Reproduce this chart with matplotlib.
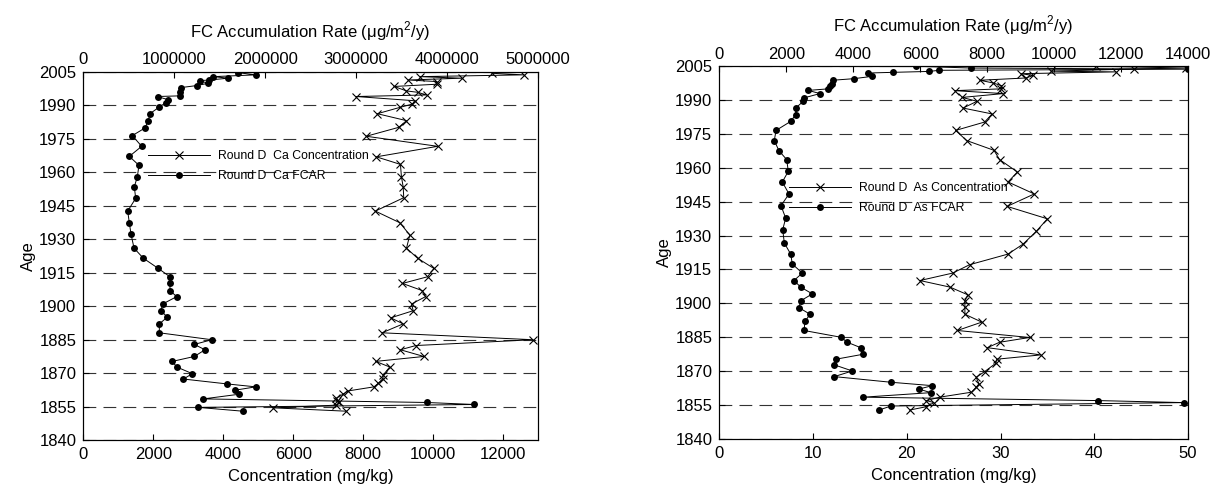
import matplotlib.pyplot as plt
import numpy as np

plt.rcParams['font.family'] = ['Liberation Sans', 'DejaVu Sans']
plt.rcParams['mathtext.fontset'] = 'custom'
plt.rcParams['mathtext.rm'] = 'Liberation Sans'

# ---------------------------------------------------------------------------
# Round D, Ca (left panel)
# ---------------------------------------------------------------------------
age_conc_ca = [2004.2, 2003.5, 2002.7, 2002.0, 2001.2, 2000.5, 1999.3, 1998.3, 1996.3, 1995.7,
               1994.5, 1993.8, 1991.9, 1990.4, 1989.0, 1986.1, 1983.0, 1980.0, 1976.0, 1971.5,
               1966.8, 1963.4, 1957.8, 1953.4, 1948.5, 1942.5, 1937.3, 1931.8, 1925.9, 1921.4,
               1916.8, 1913.1, 1910.1, 1906.9, 1904.2, 1900.9, 1897.9, 1894.7, 1892.0, 1888.0,
               1884.9, 1882.3, 1880.4, 1877.4, 1875.2, 1872.7, 1869.0, 1867.5, 1865.3, 1863.8,
               1862.0, 1860.5, 1858.6, 1857.4, 1856.8, 1855.6, 1854.4, 1852.9]
conc_ca = [11683, 12594, 9622, 10821, 9289, 10102, 10102, 8886, 9240, 9556,
           9815, 7803, 9479, 9404, 9067, 8407, 9240, 9019, 8090, 10131,
           8378, 9067, 9096, 9145, 9162, 8349, 9047, 9335, 9240, 9556,
           10024, 9843, 9125, 9691, 9786, 9384, 9432, 8789, 9145, 8541,
           12852, 9507, 9067, 9737, 8358, 8760, 8570, 8570, 8426, 8311,
           7582, 7421, 7228, 7248, 7323, 7228, 5437, 7516]

age_fcar_ca = [2004.5, 2003.5, 2002.7, 2002.0, 2001.2, 2000.9, 1999.7, 1998.7, 1997.8, 1996.0,
               1994.1, 1993.8, 1992.3, 1991.1, 1989.0, 1986.1, 1983.0, 1979.7, 1976.3, 1971.5,
               1967.0, 1963.0, 1957.8, 1953.4, 1948.2, 1942.5, 1937.3, 1932.1, 1925.9, 1921.4,
               1917.0, 1913.1, 1910.1, 1906.9, 1904.2, 1900.9, 1897.9, 1895.0, 1892.0, 1888.0,
               1884.9, 1882.8, 1880.4, 1877.4, 1875.2, 1872.7, 1869.7, 1867.3, 1865.1, 1863.8,
               1862.3, 1860.5, 1858.4, 1856.8, 1855.9, 1854.6, 1852.9]
fcar_ca = [1698000, 1896000, 1430000, 1595000, 1386000, 1283000, 1371000, 1247000, 1074000, 1063000,
           1063000, 818000, 935000, 909000, 832000, 733000, 715000, 678000, 539000, 642000,
           506000, 612000, 594000, 561000, 576000, 488000, 506000, 525000, 558000, 660000,
           818000, 953000, 953000, 953000, 1027000, 873000, 854000, 924000, 836000, 836000,
           1412000, 1221000, 1338000, 1221000, 979000, 1027000, 1199000, 1100000, 1583000, 1896000,
           1668000, 1715000, 1320000, 3776000, 4300000, 1265000, 1753000]

# ---------------------------------------------------------------------------
# Round D, As (right panel)
# ---------------------------------------------------------------------------
age_conc_as = [2004.9, 2004.1, 2003.7, 2002.7, 2002.4, 2001.6, 2000.8, 1999.7, 1998.7, 1997.5,
               1996.3, 1994.9, 1994.1, 1992.8, 1991.1, 1989.4, 1986.4, 1983.8, 1980.2, 1976.5,
               1972.0, 1967.7, 1963.6, 1958.1, 1953.7, 1948.4, 1942.9, 1937.4, 1931.8, 1926.2,
               1921.8, 1917.1, 1913.4, 1910.1, 1907.2, 1903.8, 1901.1, 1898.3, 1895.2, 1891.7,
               1888.0, 1884.9, 1882.8, 1880.4, 1877.2, 1875.3, 1873.5, 1869.8, 1867.3, 1864.4,
               1862.9, 1860.7, 1858.5, 1857.0, 1856.1, 1854.3, 1852.8]
conc_as = [40.2, 49.8, 44.2, 35.4, 42.3, 32.2, 33.5, 32.7, 27.8, 29.2,
           30.1, 30.1, 25.1, 30.3, 25.9, 27.5, 26.0, 29.1, 28.3, 25.2,
           26.4, 29.3, 29.9, 31.8, 30.8, 33.6, 30.7, 35.0, 33.8, 32.4,
           30.8, 26.7, 24.9, 21.4, 24.6, 26.5, 26.2, 26.2, 26.2, 28.0,
           25.4, 33.1, 29.9, 28.6, 34.3, 29.6, 29.5, 28.3, 27.4, 27.7,
           27.4, 26.9, 23.5, 22.1, 22.9, 22.1, 20.3]

age_fcar_as = [2004.9, 2004.1, 2003.6, 2003.1, 2002.6, 2002.2, 2001.9, 2000.4, 1999.4, 1998.7,
               1997.2, 1996.0, 1994.9, 1994.2, 1992.8, 1990.9, 1989.4, 1986.4, 1983.5, 1980.5,
               1976.5, 1972.0, 1967.5, 1963.6, 1958.4, 1953.7, 1948.4, 1943.2, 1937.7, 1932.6,
               1926.7, 1921.8, 1917.4, 1913.4, 1910.1, 1907.2, 1904.2, 1901.1, 1898.1, 1895.2,
               1892.0, 1888.0, 1885.0, 1882.8, 1880.4, 1877.5, 1875.3, 1872.8, 1870.1, 1867.6,
               1865.1, 1863.6, 1862.1, 1860.5, 1858.5, 1857.0, 1856.1, 1854.6, 1852.8]
fcar_as = [5875, 7518, 14000, 6563, 6273, 5198, 4451, 4552, 4024, 3387,
           3357, 3307, 3256, 2658, 3008, 2530, 2509, 2282, 2282, 2133,
           1694, 1643, 1783, 2013, 2061, 1882, 2082, 1843, 1983, 1894,
           1942, 2133, 2181, 2479, 2231, 2431, 2778, 2431, 2381, 2709,
           2560, 2530, 3635, 3823, 4224, 4301, 3486, 3435, 3973, 3435,
           5129, 6362, 5965, 6314, 4301, 11303, 13881, 5129, 4770]

age_ticks = np.arange(1840, 2006, 15)

W, H = 1216, 493
fig = plt.figure(figsize=(W / 100, H / 100), dpi=100)


def panel(box, age_c, conc, age_f, fcar, xmax, xstep, fmax, fstep, labels, leg_xy):
    x0, y0, x1, y1 = box
    ax = fig.add_axes([x0 / W, 1 - y1 / H, (x1 - x0) / W, (y1 - y0) / H])
    axt = ax.twiny()

    h1, = ax.plot(conc, age_c, '-', color='black', lw=0.7, marker='x', ms=5.5, mew=0.8)
    h2, = axt.plot(fcar, age_f, '-', color='black', lw=0.7, marker='o', ms=5, mew=0)

    ax.set_ylim(1840, 2005)
    ax.set_yticks(age_ticks)
    ax.set_xlim(0, xmax)
    ax.set_xticks(np.arange(0, xmax + 1, xstep))
    axt.set_xlim(0, fmax)
    axt.set_xticks(np.arange(0, fmax + 1, fstep))
    axt.ticklabel_format(axis='x', style='plain', useOffset=False)

    # dashed horizontal grid only
    ax.yaxis.grid(True, linestyle=(0, (11.5, 6.5)), color='0.2', lw=0.8)
    ax.set_axisbelow(True)

    ax.tick_params(direction='in', length=4, width=0.8, labelsize=12, pad=5)
    axt.tick_params(direction='in', length=4, width=0.8, labelsize=12, pad=3)
    for a in (ax, axt):
        for s in a.spines.values():
            s.set_linewidth(0.8)

    ax.set_ylabel('Age', fontsize=12, labelpad=2)
    ax.set_xlabel('Concentration (mg/kg)', fontsize=12, labelpad=5)
    axt.set_xlabel('FC Accumulation Rate (μg/m$^2$/y)', fontsize=12, labelpad=11)

    axt.legend([h1, h2], labels, loc='upper left',
               bbox_to_anchor=(leg_xy[0] / W, 1 - leg_xy[1] / H),
               bbox_transform=fig.transFigure, frameon=False, fontsize=8.8,
               borderpad=0, borderaxespad=0, handlelength=5.1, handletextpad=0.65,
               labelspacing=0.65)
    return ax


panel((83.3, 71.5, 538, 440), age_conc_ca, conc_ca, age_fcar_ca, fcar_ca,
      13000, 2000, 5.0e6, 1e6,
      ['Round D  Ca Concentration', 'Round D  Ca FCAR'], (148, 150))
panel((719.3, 66, 1188, 439), age_conc_as, conc_as, age_fcar_as, fcar_as,
      50, 10, 14000, 2000,
      ['Round D  As Concentration', 'Round D  As FCAR'], (789, 182))

fig.savefig('out.png', dpi=100)
